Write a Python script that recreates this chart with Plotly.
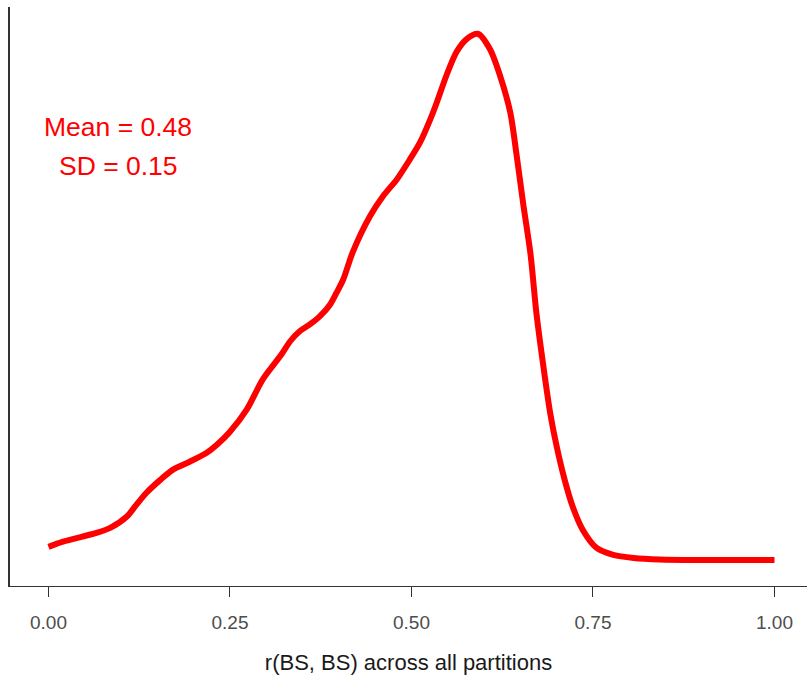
import plotly.graph_objects as go

# Kernel density of r(BS, BS) across all partitions
r_values = [0.000, 0.020, 0.066, 0.085, 0.108, 0.121, 0.135, 0.154, 0.171, 0.195,
            0.218, 0.232, 0.250, 0.273, 0.295, 0.319, 0.333, 0.346, 0.360, 0.374,
            0.388, 0.397, 0.406, 0.419, 0.443, 0.461, 0.480, 0.498, 0.512, 0.526,
            0.535, 0.548, 0.562, 0.576, 0.592, 0.608, 0.622, 0.636, 0.645, 0.654,
            0.664, 0.672, 0.681, 0.691, 0.700, 0.711, 0.722, 0.736, 0.755, 0.778,
            0.806, 0.842, 0.897, 0.950, 1.000]
density = [0.077, 0.108, 0.159, 0.189, 0.256, 0.325, 0.396, 0.472, 0.531, 0.580,
           0.632, 0.679, 0.756, 0.886, 1.063, 1.200, 1.289, 1.348, 1.388, 1.437,
           1.506, 1.577, 1.653, 1.813, 2.027, 2.145, 2.244, 2.362, 2.462, 2.598,
           2.698, 2.854, 2.994, 3.070, 3.100, 3.011, 2.854, 2.639, 2.380, 2.096,
           1.801, 1.458, 1.163, 0.868, 0.669, 0.472, 0.315, 0.177, 0.071, 0.030,
           0.012, 0.003, 0.000, 0.000, 0.000]

tick_vals = [0.0, 0.25, 0.5, 0.75, 1.0]
tick_text = ["0.00", "0.25", "0.50", "0.75", "1.00"]

stat_lines = ["Mean = 0.48", "SD = 0.15"]
stat_x = 0.096
stat_y = [2.551, 2.320]

fig = go.Figure()
fig.add_trace(go.Scatter(
    x=r_values, y=density, mode="lines",
    line=dict(color="#FF0000", width=6, shape="spline", smoothing=0.8),
    hoverinfo="skip", showlegend=False,
))

for txt, yy in zip(stat_lines, stat_y):
    fig.add_annotation(
        x=stat_x, y=yy, text=txt, showarrow=False,
        xanchor="center", yanchor="middle",
        font=dict(family="Liberation Sans, Arial, sans-serif", size=26.5, color="#FF0000"),
    )

fig.update_layout(
    width=807, height=680,
    margin=dict(l=10, r=0, t=7, b=94),
    plot_bgcolor="white", paper_bgcolor="white",
    font=dict(family="Liberation Sans, Arial, sans-serif"),
    xaxis=dict(
        range=[-0.053, 1.0448], tickvals=tick_vals, ticktext=tick_text,
        showgrid=False, zeroline=False,
        showline=True, linecolor="#333333", linewidth=1.3,
        ticks="outside", ticklen=10, tickwidth=1.3, tickcolor="#333333",
        ticklabelstandoff=9,
        tickfont=dict(size=19, color="#4D4D4D"),
        title=dict(text="r(BS, BS) across all partitions",
                   font=dict(size=22, color="#1a1a1a"), standoff=22),
    ),
    yaxis=dict(
        range=[-0.1535, 3.259], showticklabels=False, ticks="",
        showgrid=False, zeroline=False,
        showline=True, linecolor="#333333", linewidth=1.5,
    ),
)

fig.write_html("out.html")
